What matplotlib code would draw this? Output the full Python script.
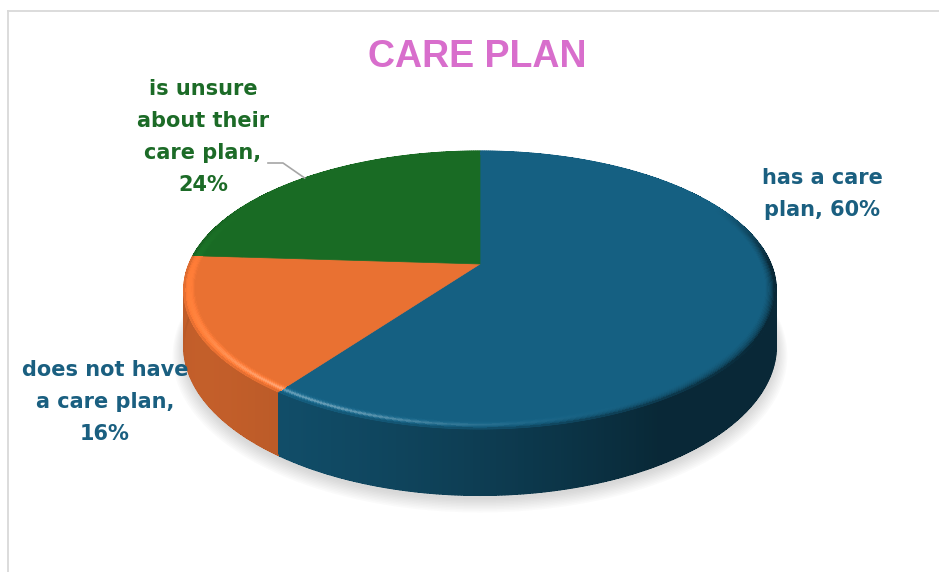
import numpy as np
import matplotlib
matplotlib.use("Agg")
import matplotlib.pyplot as plt
from matplotlib.collections import PolyCollection, LineCollection
from matplotlib.patches import Polygon
from matplotlib.colors import to_rgb

# ---- data -------------------------------------------------------------
categories = ["has a care plan", "does not have a care plan",
              "is unsure about their care plan"]
shares = [60, 16, 24]
label_templates = ["has a care\nplan, {}%",
                   "does not have\na care plan,\n{}%",
                   "is unsure\nabout their\ncare plan,\n{}%"]
slice_colors = ["#156082", "#E97132", "#196B24"]
label_colors = ["#1A5F80", "#1A5F80", "#1C6B27"]
title = "CARE PLAN"

# ---- canvas (data units == pixels) ------------------------------------
W, H = 939, 572
fig = plt.figure(figsize=(W / 100, H / 100), dpi=100)
ax = fig.add_axes([0, 0, 1, 1])
ax.set_xlim(0, W)
ax.set_ylim(H, 0)
ax.axis("off")

# chart-area frame
ax.plot([7, W], [10.5, 10.5], color="#D9D9D9", lw=1.3, solid_capstyle="butt")
ax.plot([7.5, 7.5], [10, H], color="#D9D9D9", lw=1.3, solid_capstyle="butt")

# ---- 3-D pie geometry -------------------------------------------------
CX, CY = 480, 264          # projected pie centre
RX, RY = 291, 134          # radii of the top disc
PERSP = 0.187              # perspective foreshortening
DEPTH = 54                 # thickness of the pie


def project(u, v, drop=0.0):
    den = 1 + PERSP * v
    return CX + RX * u / den, CY - RY * v / den + drop / den


def unit(vec):
    vec = np.asarray(vec, float)
    return vec / np.linalg.norm(vec)


LIGHT = unit([-0.5, -0.3, 0.81])
VIEW = unit([0.0, -0.6, 0.8])
HALF = unit(LIGHT + VIEW)
AMB = 0.42
DIF = (1 - AMB) / LIGHT[2]
KS, SHINE = 0.35, 40


def shade(base, n):
    d = max(0.0, float(np.dot(n, LIGHT)))
    s = KS * max(0.0, float(np.dot(n, HALF))) ** SHINE
    c = np.array(to_rgb(base)) * (AMB + DIF * d)
    c = c + (1 - c) * s
    return np.clip(c, 0, 1)


total = float(sum(shares))
bounds = 90 - 360 * np.concatenate([[0], np.cumsum(shares)]) / total
spans = [(np.radians(bounds[i]), np.radians(bounds[i + 1]))
         for i in range(len(shares))]


def angle_steps(a0, a1, per_deg=2):
    steps = max(2, int(abs(np.degrees(a1 - a0)) * per_deg))
    return np.linspace(a0, a1, steps + 1)


# soft drop shadow below the pie
ang = np.linspace(0, 2 * np.pi, 361)
for i in range(10):
    r = 1 + 0.004 * i
    px, py = project(r * np.cos(ang), r * np.sin(ang), DEPTH + 3 + 0.5 * i)
    ax.add_patch(Polygon(np.column_stack([px, py]), closed=True,
                         facecolor="#7F7F7F", edgecolor="none", alpha=0.03,
                         zorder=1))

# outer wall of each slice, painted back to front
wall, edge_segs, edge_cols = [], [], []
for (a0, a1), col in zip(spans, slice_colors):
    ts = angle_steps(a0, a1)
    for ta, tb in zip(ts[:-1], ts[1:]):
        m = 0.5 * (ta + tb)
        p0 = project(np.cos(ta), np.sin(ta))
        p1 = project(np.cos(tb), np.sin(tb))
        p2 = project(np.cos(tb), np.sin(tb), DEPTH)
        p3 = project(np.cos(ta), np.sin(ta), DEPTH)
        c = shade(col, np.array([np.cos(m), np.sin(m), 0.0]))
        wall.append((np.sin(m), [p0, p1, p2, p3], c))
        if np.sin(m) < 0:
            edge_segs.append([p3, p2])
            edge_cols.append(c)
wall.sort(key=lambda w: -w[0])
ax.add_collection(PolyCollection([w[1] for w in wall],
                                 facecolors=[w[2] for w in wall],
                                 edgecolors="none", antialiased=False,
                                 zorder=2))
# smooth lower edge of the wall
ax.add_collection(LineCollection(edge_segs, colors=edge_cols, linewidths=1.1,
                                 capstyle="round", zorder=2.5))

# flat top of each slice
for (a0, a1), col in zip(spans, slice_colors):
    ts = np.linspace(a0, a1, 200)
    px, py = project(np.cos(ts), np.sin(ts))
    pts = np.vstack([[CX, CY], np.column_stack([px, py])])
    ax.add_patch(Polygon(pts, closed=True, facecolor=col, edgecolor=col,
                         lw=0.5, zorder=3))

# rounded bevel along the rim of the top; it fades out towards the back
BEVEL, NB = 0.035, 9
bev_polys, bev_cols, rim_segs, rim_cols = [], [], [], []
for (a0, a1), col in zip(spans, slice_colors):
    flat = np.array(to_rgb(col))
    ts = angle_steps(a0, a1)
    for j in range(NB):
        r_in = 1 - BEVEL + j * BEVEL / NB
        r_out = r_in + BEVEL / NB
        phi = np.arcsin((j + 0.5) / NB)
        for ta, tb in zip(ts[:-1], ts[1:]):
            m = 0.5 * (ta + tb)
            n = np.array([np.sin(phi) * np.cos(m), np.sin(phi) * np.sin(m),
                          np.cos(phi)])
            w = np.clip((0.45 - np.sin(m)) / 0.45, 0, 1)
            c = tuple(flat * (1 - w) + shade(col, n) * w)
            quad = [project(r_in * np.cos(ta), r_in * np.sin(ta)),
                    project(r_in * np.cos(tb), r_in * np.sin(tb)),
                    project(r_out * np.cos(tb), r_out * np.sin(tb)),
                    project(r_out * np.cos(ta), r_out * np.sin(ta))]
            bev_polys.append(quad)
            bev_cols.append(c)
            if j == NB - 1:
                rim_segs.append([quad[3], quad[2]])
                rim_cols.append(c)
ax.add_collection(PolyCollection(bev_polys, facecolors=bev_cols,
                                 edgecolors="none", antialiased=False,
                                 zorder=4))
ax.add_collection(LineCollection(rim_segs, colors=rim_cols, linewidths=0.9,
                                 capstyle="round", zorder=4.5))

# ---- labels -----------------------------------------------------------
label_pos = [(822, 194), (105, 402), (203, 137)]
for tmpl, v, (lx, ly), tc in zip(label_templates, shares, label_pos,
                                 label_colors):
    ax.text(lx, ly, tmpl.format(v), ha="center", va="center",
            fontsize=15, fontweight="bold", color=tc, family="DejaVu Sans",
            linespacing=1.75, zorder=6)

# leader line for the unsure slice, ending at its mid-angle on the rim
mid = 0.5 * (spans[2][0] + spans[2][1])
ex, ey = project(np.cos(mid), np.sin(mid))
ax.plot([268, 283, ex], [163, 163, ey], color="#A6A6A6", lw=1.2, zorder=6)

ax.text(477, 57, title, ha="center", va="center", fontsize=27,
        fontweight="bold", color="#D86ECC", family="Liberation Sans",
        zorder=6)

fig.savefig("out.png", dpi=100)
